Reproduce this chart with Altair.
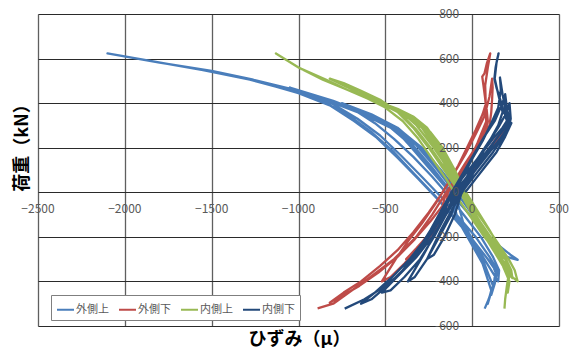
import altair as alt
import pandas as pd

series_names = ["外側上", "外側下", "内側上", "内側下"]
series_colors = ["#4A7EBB", "#BE4B48", "#98B954", "#23497A"]

x_ticks = [-2500, -2000, -1500, -1000, -500, 0, 500]
x_tick_labels = ["−2500", "−2000", "−1500", "−1000", "−500", "0", "500"]
y_ticks = [-600, -400, -200, 0, 200, 400, 600, 800]
y_tick_labels = ["-600", "-400", "-200", "0", "200", "400", "600", "800"]

# 外側上 (outer, upper gauge)
out_up_x = [
    -80, -180, -290, -400, -470, -440, -360, -250, -150, -60, 40, 140, 220, 262, 200, 110, 20,
    -90, -200, -310, -430, -580, -750, -680, -560, -450, -340, -230, -130, -40, 50, 120, 155, 150, 110, 30, -50,
    -100, -210, -320, -440, -600, -800, -1050, -950, -800, -660, -530, -410, -290, -180, -80, 20, 100, 145, 130, 110, 120, 70, -10, -90,
    -120, -230, -340, -460, -620, -820, -1050, -1350, -1200, -1000, -820, -680, -550, -430, -310, -200, -100, 0, 80, 135, 125, 105, 90, 110, 60, -20, -100,
    -130, -240, -350, -470, -630, -830, -1060, -1280, -1550, -1820, -2100, -1800, -1500, -1260, -1050, -880, -720, -580, -450, -330, -220, -120, -20, 60, 120, 140, 120, 95, 72,
]
out_up_y = [
    0, 100, 200, 270, 300, 280, 210, 110, 20, -60, -150, -230, -280, -303, -290, -210, -120,
    0, 110, 210, 290, 350, 400, 370, 310, 240, 160, 70, -20, -110, -200, -290, -350, -400, -350, -250, -140,
    0, 110, 210, 290, 350, 410, 470, 445, 395, 330, 255, 165, 70, -20, -110, -200, -290, -350, -410, -460, -420, -320, -210, -100,
    0, 110, 210, 290, 350, 410, 460, 520, 490, 445, 390, 320, 245, 155, 60, -30, -120, -210, -290, -350, -410, -460, -500, -440, -320, -210, -100,
    0, 110, 210, 290, 350, 410, 460, 505, 548, 585, 623, 582, 545, 505, 465, 415, 350, 270, 180, 80, -10, -100, -190, -270, -330, -370, -420, -480, -522,
]

# 外側下 (outer, lower gauge)
out_lo_x = [
    -90, -30, 40, 110, 170, 215, 180, 120, 50, -20, -90, -160, -240, -320, -380, -340, -260, -180,
    -120, -70, -20, 30, 75, 90, 85, 80, 60, 20, -30, -80, -140, -210, -290, -370, -440, -520, -470, -390, -300, -220, -150,
    -140, -90, -40, 20, 70, 100, 110, 115, 118, 115, 100, 70, 20, -40, -100, -170, -250, -340, -430, -530, -640, -740, -820, -760, -650, -540, -430, -330, -240, -170,
    -150, -95, -40, 20, 60, 85, 82, 75, 65, 58, 71, 85, 104, 90, 75, 78, 81, 30, -16, -80, -150, -230, -322, -450, -620, -800, -890,
]
out_lo_y = [
    0, 60, 130, 200, 260, 318, 290, 220, 140, 60, -20, -100, -180, -250, -300, -290, -220, -130,
    0, 60, 130, 200, 270, 320, 360, 400, 350, 280, 200, 120, 40, -50, -140, -220, -300, -400, -380, -320, -240, -160, -70,
    0, 60, 130, 200, 260, 300, 360, 420, 470, 510, 430, 340, 260, 170, 90, 0, -90, -180, -260, -330, -400, -450, -495, -470, -420, -360, -290, -210, -130, -60,
    0, 60, 130, 200, 250, 310, 360, 420, 480, 519, 534, 580, 623, 560, 480, 400, 318, 220, 140, 60, 0, -100, -200, -300, -400, -500, -521,
]

# 内側上 (inner, upper gauge)
in_up_x = [
    -40, -100, -170, -240, -290, -260, -200, -130, -60, 20, 100, 160, 190, 170, 100, 20,
    -50, -110, -180, -260, -340, -430, -520, -470, -400, -320, -230, -150, -80, 0, 80, 150, 210, 245, 262, 230, 160, 80, 0,
    -60, -120, -190, -270, -360, -460, -560, -650, -590, -500, -410, -320, -240, -160, -90, -10, 70, 140, 195, 225, 232, 200, 130, 50, -20,
    -60, -130, -200, -280, -370, -470, -580, -700, -820, -740, -640, -530, -430, -340, -250, -170, -90, -10, 70, 140, 190, 215, 210, 205, 215, 160, 80, 0,
    -70, -140, -210, -290, -380, -480, -600, -720, -840, -990, -1130, -1000, -860, -720, -600, -500, -400, -310, -230, -150, -80, 0, 70, 140, 190, 210, 200, 190, 186,
]
in_up_y = [
    0, 100, 200, 270, 300, 285, 220, 130, 30, -70, -170, -250, -300, -290, -200, -100,
    0, 100, 200, 290, 340, 375, 400, 385, 355, 300, 210, 120, 30, -60, -150, -230, -300, -350, -400, -380, -290, -190, -90,
    0, 100, 200, 290, 340, 380, 415, 450, 430, 400, 350, 280, 200, 110, 20, -70, -160, -240, -300, -350, -385, -360, -270, -170, -70,
    0, 100, 200, 290, 340, 380, 420, 465, 510, 490, 455, 415, 360, 290, 200, 110, 20, -70, -160, -240, -300, -350, -400, -450, -400, -300, -200, -100,
    0, 100, 200, 290, 340, 380, 420, 460, 505, 556, 623, 560, 505, 460, 420, 380, 320, 240, 150, 60, -30, -120, -200, -270, -320, -370, -420, -480, -522,
]

# 内側下 (inner, lower gauge)
in_lo_x = [
    -40, 20, 80, 140, 190, 226, 190, 130, 70, 10, -50, -110, -180, -260, -220, -160, -100,
    -60, 0, 60, 120, 170, 210, 222, 215, 200, 150, 90, 30, -30, -90, -150, -210, -280, -370, -330, -260, -190, -120,
    -80, -20, 40, 100, 160, 205, 215, 200, 190, 175, 130, 70, 10, -50, -110, -170, -240, -320, -420, -520, -470, -390, -300, -220, -150,
    -100, -40, 20, 80, 140, 190, 210, 190, 175, 160, 165, 150, 110, 60, 0, -60, -120, -190, -270, -360, -460, -560, -640, -580, -490, -400, -310, -230, -160,
    -120, -60, 0, 60, 120, 175, 200, 180, 160, 140, 128, 135, 145, 152, 140, 130, 150, 175, 150, 100, 40, -20, -80, -150, -230, -320, -420, -520, -620, -734,
]
in_lo_y = [
    0, 60, 120, 180, 250, 311, 290, 230, 160, 90, 10, -70, -170, -300, -280, -200, -100,
    0, 60, 120, 180, 240, 290, 330, 400, 360, 290, 220, 150, 70, -10, -90, -180, -280, -400, -380, -300, -200, -100,
    0, 60, 120, 180, 240, 290, 320, 380, 440, 400, 320, 250, 170, 90, 10, -70, -170, -270, -370, -450, -440, -380, -300, -200, -100,
    0, 60, 120, 180, 240, 290, 320, 380, 440, 515, 460, 380, 310, 230, 150, 60, -20, -110, -210, -300, -380, -450, -500, -480, -420, -350, -270, -180, -90,
    0, 60, 120, 180, 240, 290, 320, 370, 420, 470, 510, 560, 600, 623, 580, 510, 440, 360, 300, 230, 150, 70, -10, -100, -200, -290, -370, -430, -480, -522,
]

rows = []
for name, xs, ys in [
    ("外側上", out_up_x, out_up_y),
    ("外側下", out_lo_x, out_lo_y),
    ("内側上", in_up_x, in_up_y),
    ("内側下", in_lo_x, in_lo_y),
]:
    for i, (a, b) in enumerate(zip(xs, ys)):
        rows.append({"series": name, "strain": a, "load": b, "i": i})
df = pd.DataFrame(rows)

xlab_df = pd.DataFrame({"v": x_ticks, "t": x_tick_labels})
ylab_df = pd.DataFrame({"v": y_ticks, "t": y_tick_labels})

W, H = 521, 312
FONT = "Noto Sans CJK JP"

xscale = alt.Scale(domain=[-2500, 500], nice=False, zero=False)
yscale = alt.Scale(domain=[-600, 800], nice=False, zero=False)

x_axis = alt.Axis(
    values=x_ticks, grid=True, labels=False, ticks=False, domain=False,
    gridColor="#5f5f5f", gridWidth=1.3,
    title="ひずみ（μ）", titleFont=FONT, titleFontSize=18, titleFontWeight="bold",
    titleColor="#000000", titleX=261, titleY=13, titleBaseline="middle",
)
y_axis = alt.Axis(
    values=y_ticks, grid=True, labels=False, ticks=False, domain=False,
    gridColor="#2a2a2a", gridWidth=1,
    title="荷重（kN）", titleFont=FONT, titleFontSize=18, titleFontWeight="bold",
    titleColor="#000000", titleX=-16, titleY=129, titleBaseline="middle", titleAlign="center",
)

color = alt.Color(
    "series:N",
    title=None,
    scale=alt.Scale(domain=series_names, range=series_colors),
    legend=alt.Legend(
        orient="none", legendX=13, legendY=281, direction="horizontal",
        symbolType="stroke", symbolStrokeWidth=2, symbolSize=289,
        labelFont=FONT, labelFontSize=11, labelColor="#595959", labelOffset=1,
        columnPadding=6, padding=5, strokeColor="#7f7f7f", fillColor="#ffffff",
    ),
)


def lines(name):
    return (
        alt.Chart(df)
        .transform_filter(alt.datum.series == name)
        .mark_line(strokeWidth=2.3, strokeJoin="round")
        .encode(
            x=alt.X("strain:Q", scale=xscale, axis=x_axis),
            y=alt.Y("load:Q", scale=yscale, axis=y_axis),
            color=color,
            order="i:Q",
        )
    )


xlabels = alt.Chart(xlab_df).mark_text(
    dy=17, fontSize=12, color="#595959", font=FONT, baseline="middle", align="center"
).encode(
    x=alt.X("v:Q", scale=xscale, axis=x_axis),
    y=alt.datum(0),
    text="t:N",
)
ylabels = alt.Chart(ylab_df).mark_text(
    dx=-13, fontSize=12, color="#595959", font=FONT, baseline="middle", align="right"
).encode(
    x=alt.datum(0),
    y=alt.Y("v:Q", scale=yscale, axis=y_axis),
    text="t:N",
)

chart = (
    alt.layer(
        lines("外側上"), lines("外側下"), lines("内側上"), lines("内側下"),
        ylabels, xlabels,
    )
    .properties(
        width=W, height=H,
        autosize=alt.AutoSizeParams(type="none"),
        padding={"left": 30, "top": 6, "right": 10, "bottom": 22},
    )
    .configure_view(stroke="#000000", strokeWidth=1)
    .configure(background="#ffffff")
)

chart.save("out.html", embed_options={"renderer": "svg", "actions": False})
